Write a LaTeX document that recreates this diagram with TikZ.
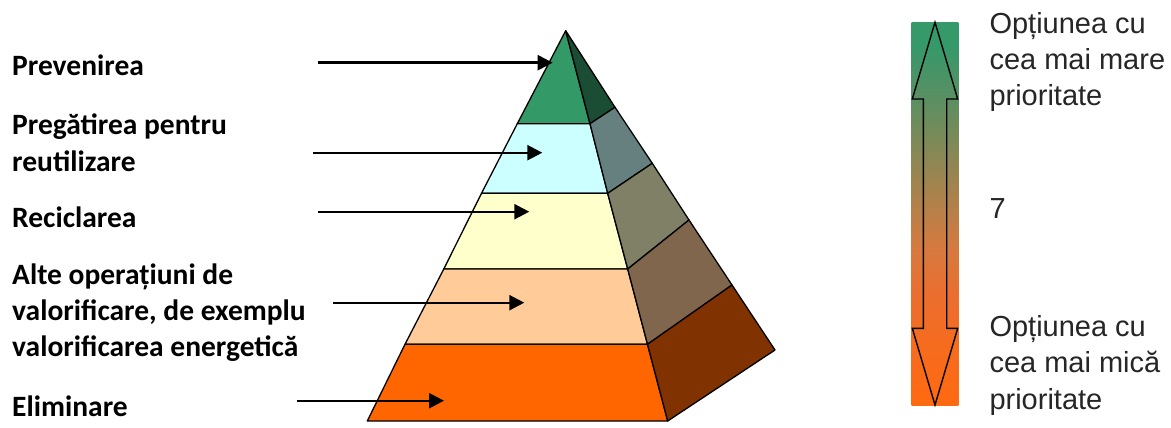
\documentclass[tikz,border=0pt]{standalone}
\usepackage{fontspec}
\setmainfont{Carlito}
\newfontfamily\arialf{Liberation Sans}
\usetikzlibrary{arrows.meta}
\definecolor{g1}{HTML}{339966}\definecolor{g1s}{HTML}{1A4D33}
\definecolor{c2}{HTML}{CCFFFF}\definecolor{c2s}{HTML}{668080}
\definecolor{c3}{HTML}{FFFFCC}\definecolor{c3s}{HTML}{808066}
\definecolor{c4}{HTML}{FFCC99}\definecolor{c4s}{HTML}{80664D}
\definecolor{c5}{HTML}{FF6600}\definecolor{c5s}{HTML}{803300}
\definecolor{txtgray}{HTML}{262626}
\definecolor{s0}{HTML}{FF6A10}\definecolor{s1}{HTML}{F56C20}
\definecolor{s2}{HTML}{EA6E30}\definecolor{s3}{HTML}{D67A40}
\definecolor{s4}{HTML}{A0844E}\definecolor{s5}{HTML}{5A8F62}
\definecolor{s6}{HTML}{35996A}
\pgfdeclareverticalshading{prio}{100bp}{color(0bp)=(s0); color(25bp)=(s0); color(33.5bp)=(s1); color(39.7bp)=(s2); color(45.5bp)=(s3); color(54bp)=(s4); color(65bp)=(s5); color(72bp)=(s6); color(100bp)=(s6)}
\tikzset{
  face/.style={draw=black, line width=1.3pt, line join=round},
  lbl/.style={anchor=base west, inner sep=0pt, align=left, font=\bfseries\fontsize{29.5}{36}\selectfont},
  rlbl/.style={anchor=base west, inner sep=0pt, align=left, text=txtgray, font=\arialf\fontsize{29}{36.5}\selectfont},
  arr/.style={line width=2.4pt, -{Triangle[length=15pt,width=15pt]}},
  dbl/.style={draw=black, line width=1.4pt, line join=miter}
}
\begin{document}
\begin{tikzpicture}[x=1pt,y=-1pt]
\useasboundingbox (0,0) rectangle (1171,428);
% pyramid points
\coordinate (A) at (565.7,30.7);
\coordinate (L1) at (517.3,123.7); \coordinate (R1) at (590,123.7); \coordinate (B1) at (615,107.3);
\coordinate (L2) at (481.5,193.3); \coordinate (R2) at (607.7,193.3); \coordinate (B2) at (652.3,163.3);
\coordinate (L3) at (443.8,269); \coordinate (R3) at (627.7,269); \coordinate (B3) at (689,220);
\coordinate (L4) at (405,344.3); \coordinate (R4) at (647.5,344.3); \coordinate (B4) at (732,285);
\coordinate (L5) at (367.3,421); \coordinate (R5) at (667.7,421); \coordinate (B5) at (775,350);
% faces
\filldraw[face, fill=g1] (A) -- (L1) -- (R1) -- cycle;
\filldraw[face, fill=g1s] (A) -- (R1) -- (B1) -- cycle;
\filldraw[face, fill=c2] (L1) -- (L2) -- (R2) -- (R1) -- cycle;
\filldraw[face, fill=c2s] (R1) -- (R2) -- (B2) -- (B1) -- cycle;
\filldraw[face, fill=c3] (L2) -- (L3) -- (R3) -- (R2) -- cycle;
\filldraw[face, fill=c3s] (R2) -- (R3) -- (B3) -- (B2) -- cycle;
\filldraw[face, fill=c4] (L3) -- (L4) -- (R4) -- (R3) -- cycle;
\filldraw[face, fill=c4s] (R3) -- (R4) -- (B4) -- (B3) -- cycle;
\filldraw[face, fill=c5] (L4) -- (L5) -- (R5) -- (R4) -- cycle;
\filldraw[face, fill=c5s] (R4) -- (R5) -- (B5) -- (B4) -- cycle;
% labels (base anchor = last line's baseline)
\node[lbl] (prev) at (12,75.5) {Prevenirea};
\node[lbl] (preg) at (12,171) {Pregătirea pentru\\reutilizare};
\node[lbl] (recic) at (12,227.5) {Reciclarea};
\node[lbl] (alte) at (12,356) {Alte operațiuni de\\valorificare, de exemplu\\valorificarea energetică};
\node[lbl] (elim) at (12,416) {Eliminare};
% arrows
\coordinate (s1) at (317.7,62.7); \coordinate (t1) at (552.7,62.7);
\coordinate (s2) at (313.3,152.7); \coordinate (t2) at (542.3,152.7);
\coordinate (s3) at (318.3,211.7); \coordinate (t3) at (529.3,211.7);
\coordinate (s4) at (333.3,302.7); \coordinate (t4) at (524.3,302.7);
\coordinate (s5) at (296.7,400.7); \coordinate (t5) at (444,400.7);
\draw[arr] (s1) -- (t1);
\draw[arr] (s2) -- (t2);
\draw[arr] (s3) -- (t3);
\draw[arr] (s4) -- (t4);
\draw[arr] (s5) -- (t5);
% priority bar
\shade[shading=prio] (911.7,22.3) rectangle (958.3,405);
\draw[dbl] (935,22.3) -- (957.7,99) -- (946.7,99) -- (946.7,328.3) -- (957.7,328.3) -- (935,405)
  -- (912.3,328.3) -- (923.3,328.3) -- (923.3,99) -- (912.3,99) -- cycle;
\node[rlbl] (hi) at (989.3,106) {Opțiunea cu\\cea mai mare\\prioritate};
\node[rlbl] (mid) at (989.3,218.3) {7};
\node[rlbl] (lo) at (989.3,409) {Opțiunea cu\\cea mai mică\\prioritate};
\end{tikzpicture}
\end{document}
